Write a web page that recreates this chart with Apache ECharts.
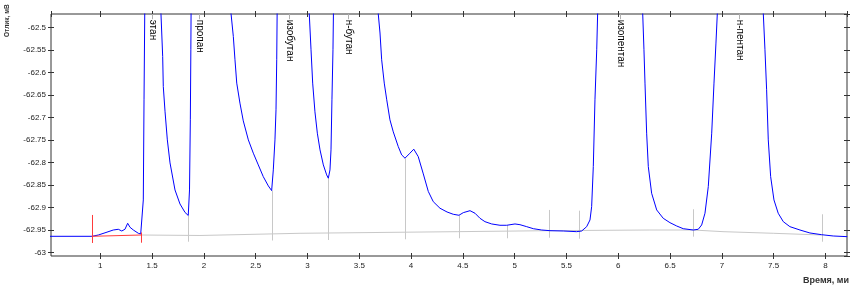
<!DOCTYPE html>
<html>
<head>
<meta charset="utf-8">
<script src="https://cdn.jsdelivr.net/npm/echarts@6/dist/echarts.min.js"></script>
<style>html,body{margin:0;padding:0;background:#fff;}#c{width:860px;height:289px;}</style>
</head>
<body>
<div id="c"></div>
<script>
// Chromatogram signal: [time (min), response (mV)]; apex values are off-scale estimates
const chromatogram = [
  [0.50,-62.9636],[0.920,-62.9636],[0.981,-62.9607],[1.055,-62.9551],[1.125,-62.9496],
  [1.174,-62.9480],[1.207,-62.9518],[1.238,-62.9480],[1.264,-62.9347],[1.287,-62.9436],
  [1.319,-62.9496],[1.367,-62.9569],[1.390,-62.9584],[1.403,-62.9562],[1.415,-62.8829],
  [1.422,-62.6607],[1.430,-62.44],[1.50,-61.0],
  [1.581,-62.44],[1.586,-62.4718],[1.602,-62.5644],[1.608,-62.6311],[1.625,-62.6873],
  [1.647,-62.7496],[1.673,-62.8007],[1.721,-62.8607],[1.769,-62.8918],[1.818,-62.9107],
  [1.849,-62.9173],[1.861,-62.8607],[1.869,-62.7051],[1.874,-62.5496],[1.877,-62.44],[1.96,-61.0],
  [2.259,-62.44],[2.262,-62.4696],[2.284,-62.5200],[2.300,-62.5718],[2.317,-62.6236],
  [2.348,-62.6680],[2.380,-62.7073],[2.429,-62.7496],[2.477,-62.7791],[2.525,-62.8051],
  [2.573,-62.8311],[2.622,-62.8518],[2.654,-62.8622],[2.670,-62.8162],[2.686,-62.7496],
  [2.696,-62.6829],[2.703,-62.5718],[2.708,-62.44],[2.85,-61.0],
  [3.015,-62.44],[3.017,-62.4696],[3.034,-62.5496],[3.050,-62.6236],[3.072,-62.6873],
  [3.095,-62.7347],[3.121,-62.7718],[3.153,-62.8051],[3.185,-62.8273],[3.201,-62.8347],
  [3.217,-62.8162],[3.227,-62.7718],[3.236,-62.6607],[3.246,-62.5496],[3.252,-62.44],[3.40,-61.0],
  [3.681,-62.44],[3.683,-62.4696],[3.700,-62.5124],[3.716,-62.5718],[3.741,-62.6236],
  [3.765,-62.6607],[3.796,-62.7051],[3.828,-62.7318],[3.876,-62.7644],[3.909,-62.7829],
  [3.941,-62.7902],[3.989,-62.7791],[4.026,-62.7702],[4.069,-62.7867],[4.118,-62.8251],
  [4.166,-62.8640],[4.214,-62.8867],[4.279,-62.9013],[4.347,-62.9096],[4.407,-62.9147],
  [4.462,-62.9169],[4.504,-62.9111],[4.569,-62.9067],[4.617,-62.9124],[4.665,-62.9236],
  [4.713,-62.9311],[4.778,-62.9362],[4.858,-62.9391],[4.923,-62.9391],[5.003,-62.9362],
  [5.051,-62.9378],[5.116,-62.9422],[5.180,-62.9467],[5.261,-62.9496],[5.341,-62.9511],
  [5.469,-62.9518],[5.598,-62.9533],[5.647,-62.9518],[5.695,-62.9422],[5.727,-62.9273],
  [5.743,-62.8978],[5.759,-62.8089],[5.775,-62.6607],[5.792,-62.5496],[5.804,-62.44],[6.02,-61.0],
  [6.232,-62.44],[6.236,-62.4696],[6.248,-62.5496],[6.258,-62.6236],[6.274,-62.7347],
  [6.290,-62.8089],[6.322,-62.8680],[6.371,-62.9051],[6.434,-62.9236],[6.499,-62.9333],
  [6.564,-62.9407],[6.627,-62.9467],[6.724,-62.9496],[6.772,-62.9480],[6.805,-62.9384],
  [6.837,-62.9124],[6.869,-62.8533],[6.902,-62.7347],[6.924,-62.6236],[6.943,-62.5347],
  [6.956,-62.4696],[6.959,-62.44],[7.17,-61.0],
  [7.397,-62.44],[7.400,-62.4696],[7.416,-62.5496],[7.432,-62.6384],[7.448,-62.7496],
  [7.471,-62.8311],[7.503,-62.8829],[7.544,-62.9124],[7.593,-62.9311],[7.657,-62.9422],
  [7.754,-62.9496],[7.850,-62.9562],[7.963,-62.9600],[8.075,-62.9629],[8.21,-62.9644]
];

// Integration baseline (gray)
const baseline = [
  [1.393,-62.9607],[1.962,-62.9618],[2.928,-62.9569],[4.445,-62.9533],[5.321,-62.9511],
  [6.305,-62.9496],[6.724,-62.9496],[7.011,-62.9533],[7.496,-62.9569],[7.963,-62.9607]
];

// Baseline segment of the first (unnamed) peak (red)
const redBaseline = [[0.917,-62.9636],[1.393,-62.9607]];
const redMarkerTime = [0.917, 1.393];
const redMarkerTop = [-62.9162, -62.9551];
const redMarkerBottom = [-62.9784, -62.9778];

// Peak boundary markers (gray verticals)
const markerTime   = [1.849, 2.659, 3.201, 3.941, 4.464, 4.923, 5.328, 5.624, 6.724, 7.963];
const markerTop    = [-62.9173,-62.8622,-62.8347,-62.7902,-62.9169,-62.9391,-62.9051,-62.9067,-62.9036,-62.9147];
const markerBottom = [-62.9756,-62.9729,-62.9718,-62.9702,-62.9680,-62.9680,-62.9667,-62.9689,-62.9644,-62.9756];

// Peak names and retention times
const peakNames = ['этан','пропан','изобутан','н-бутан','изопентан','н-пентан'];
const peakTimes = [1.495, 1.956, 2.824, 3.394, 6.016, 7.168];

const X_MIN = 0.524, X_MAX = 8.208;
const Y_MIN = -63.0073, Y_MAX = -62.4702;
const LABEL_TOP = -62.4829;

const chart = echarts.init(document.getElementById('c'), null, {renderer: 'canvas'});
const tickFont = {fontFamily: 'Liberation Sans, Arial, sans-serif', fontSize: 8, color: '#222'};

function markerSeries(name, times, tops, bottoms, color, z) {
  return {
    name: name, type: 'custom', z: z, silent: true,
    data: times.map((t, i) => [t, tops[i], bottoms[i]]),
    renderItem: function (params, api) {
      const p1 = api.coord([api.value(0), api.value(1)]);
      const p2 = api.coord([api.value(0), api.value(2)]);
      return {type: 'line', shape: {x1: Math.round(p1[0]) + 0.5, y1: p1[1], x2: Math.round(p2[0]) + 0.5, y2: p2[1]},
              style: {stroke: color, lineWidth: 1}};
    }
  };
}

chart.setOption({
  animation: false,
  grid: {left: 51, top: 14, right: 13, bottom: 33, show: true, borderColor: '#333', borderWidth: 1, backgroundColor: '#fff'},
  xAxis: [
    {type: 'value', min: X_MIN, max: X_MAX, splitNumber: 15, position: 'bottom', offset: -3,
     axisLine: {show: false}, axisTick: {show: true, length: 6, lineStyle: {color: '#333'}},
     axisLabel: Object.assign({margin: 9, showMinLabel: false, showMaxLabel: false}, tickFont),
     splitLine: {show: false}},
    {type: 'value', min: X_MIN, max: X_MAX, splitNumber: 15, position: 'top', offset: -3,
     axisLine: {show: false}, axisTick: {show: true, length: 6, lineStyle: {color: '#333'}},
     axisLabel: {show: false}, splitLine: {show: false}}
  ],
  yAxis: [
    {type: 'value', min: Y_MIN, max: Y_MAX, splitNumber: 10, position: 'left', offset: -3,
     axisLine: {show: false}, axisTick: {show: true, length: 6, lineStyle: {color: '#333'}},
     axisLabel: Object.assign({margin: 8, showMinLabel: false, showMaxLabel: false}, tickFont),
     splitLine: {show: false}},
    {type: 'value', min: Y_MIN, max: Y_MAX, splitNumber: 10, position: 'right', offset: -3,
     axisLine: {show: false}, axisTick: {show: true, length: 6, lineStyle: {color: '#333'}},
     axisLabel: {show: false}, splitLine: {show: false}}
  ],
  graphic: [
    {type: 'text', x: 7.5, y: 37, rotation: Math.PI / 2,
     style: {text: 'Отлик, мВ', font: 'bold 6.5px Liberation Sans, Arial, sans-serif', fill: '#333',
             textAlign: 'left', textVerticalAlign: 'middle'}},
    {type: 'text', right: 11, top: 276,
     style: {text: 'Время, ми', font: 'bold 9px Liberation Sans, Arial, sans-serif', fill: '#333'}}
  ],
  series: [
    {name: 'baseline', type: 'line', data: baseline, showSymbol: false, z: 2, silent: true,
     lineStyle: {color: '#c8c8c8', width: 1}},
    markerSeries('markers', markerTime, markerTop, markerBottom, '#c8c8c8', 2),
    {name: 'signal', type: 'line', data: chromatogram, showSymbol: false, clip: true, z: 4, silent: true,
     lineStyle: {color: '#0000ff', width: 1}},
    {name: 'redBaseline', type: 'line', data: redBaseline, showSymbol: false, z: 5, silent: true,
     lineStyle: {color: '#ff3b3b', width: 1}},
    markerSeries('redMarkers', redMarkerTime, redMarkerTop, redMarkerBottom, '#ff3b3b', 5),
    {name: 'peakLabels', type: 'custom', z: 6, silent: true,
     data: peakTimes.map((t, i) => [t, Y_MAX, LABEL_TOP, i]),
     renderItem: function (params, api) {
       const t = api.value(0);
       const top = api.coord([t, api.value(1)]);
       const lab = api.coord([t, api.value(2)]);
       const x = Math.round(top[0]) + 0.5;
       return {type: 'group', children: [
         {type: 'line', shape: {x1: x, y1: top[1], x2: x, y2: lab[1] - 0.5}, style: {stroke: '#b0b0b0', lineWidth: 1}},
         {type: 'text', x: x, y: lab[1], rotation: -Math.PI / 2,
          style: {text: peakNames[api.value(3)], font: '10px Liberation Sans, Arial, sans-serif', fill: '#000',
                  textAlign: 'left', textVerticalAlign: 'middle'}}
       ]};
     }}
  ]
});
</script>
</body>
</html>
